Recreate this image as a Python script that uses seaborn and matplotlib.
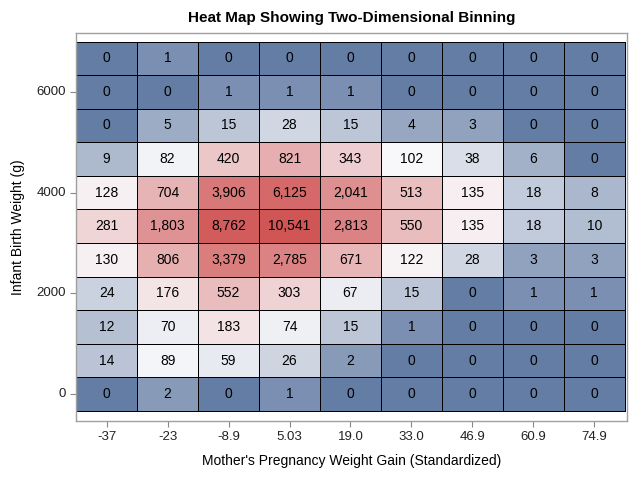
import numpy as np
import pandas as pd
import seaborn as sns
import matplotlib.pyplot as plt
from matplotlib.colors import LinearSegmentedColormap

# bin labels
gain_labels = ["-37", "-23", "-8.9", "5.03", "19.0", "33.0", "46.9", "60.9", "74.9"]
weight_ticks = ["6000", "4000", "2000", "0"]
weight_rows = [1, 4, 7, 10]   # row index (top=0) of each weight tick

# counts, top row first
counts = [
    [0, 1, 0, 0, 0, 0, 0, 0, 0],
    [0, 0, 1, 1, 1, 0, 0, 0, 0],
    [0, 5, 15, 28, 15, 4, 3, 0, 0],
    [9, 82, 420, 821, 343, 102, 38, 6, 0],
    [128, 704, 3906, 6125, 2041, 513, 135, 18, 8],
    [281, 1803, 8762, 10541, 2813, 550, 135, 18, 10],
    [130, 806, 3379, 2785, 671, 122, 28, 3, 3],
    [24, 176, 552, 303, 67, 15, 0, 1, 1],
    [12, 70, 183, 74, 15, 1, 0, 0, 0],
    [14, 89, 59, 26, 2, 0, 0, 0, 0],
    [0, 2, 0, 1, 0, 0, 0, 0, 0],
]

df = pd.DataFrame(counts, columns=gain_labels)
logc = np.log10(df + 1)
labels = df.map(lambda v: f"{v:,}")

plt.rcParams['font.family'] = ['Liberation Sans', 'DejaVu Sans']
cmap = LinearSegmentedColormap.from_list("tw", ["#647DA4", "#F8F8FA", "#D05555"])

fig = plt.figure(figsize=(6.4, 4.8), dpi=100)
ax = fig.add_axes([0.119, 0.123, 0.861, 0.808])
sns.heatmap(logc, annot=labels, fmt="", cmap=cmap, vmin=0, vmax=np.log10(10542),
            cbar=False, linewidths=0.7, linecolor="black", ax=ax,
            annot_kws={"fontsize": 10, "color": "black"})

ax.set_ylim(11.3, -0.25)
ax.set_xlim(0, 9.04)
ax.set_xticks(np.arange(len(gain_labels)) + 0.5)
ax.set_xticklabels(gain_labels, rotation=0, fontsize=9.5)
ax.set_yticks(np.array(weight_rows) + 0.5)
ax.set_yticklabels(weight_ticks, rotation=0, fontsize=9.5)
ax.tick_params(length=4, color="#888888", labelcolor="#222222")
for s in ax.spines.values():
    s.set_visible(True)
    s.set_color("#A0A0A0")
    s.set_linewidth(1)

ax.set_xlabel("Mother's Pregnancy Weight Gain (Standardized)", fontsize=10, labelpad=8)
ax.set_ylabel("Infant Birth Weight (g)", fontsize=10, labelpad=8)
ax.set_title("Heat Map Showing Two-Dimensional Binning", fontsize=11, fontweight="bold", pad=8)

fig.savefig("out.png", dpi=100)
